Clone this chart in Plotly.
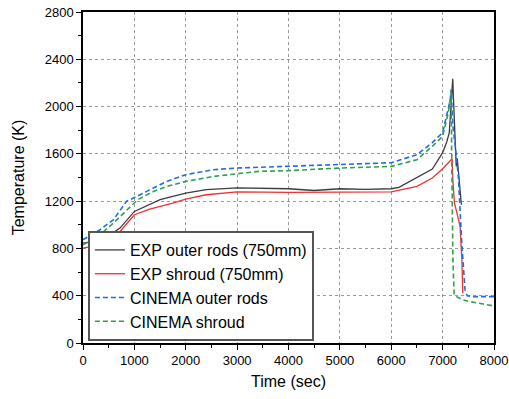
import plotly.graph_objects as go

# EXP outer rods (750mm)
t_exp_rods = [0, 330, 525, 720, 1000, 1300, 1500, 2000, 2400, 3000, 3500, 4000, 4500, 5000, 5500, 6000, 6150,
              6500, 6800, 7000, 7080, 7130, 7160, 7185, 7197, 7210, 7225, 7245, 7265, 7285, 7300, 7320, 7345, 7365]
T_exp_rods = [845, 867, 915, 972, 1113, 1169, 1212, 1268, 1297, 1313, 1310, 1305, 1290, 1305, 1300, 1305, 1316,
              1397, 1472, 1610, 1700, 1780, 1950, 2150, 2235, 2080, 1900, 1700, 1494, 1560, 1475, 1380, 1250, 1170]

# EXP shroud (750mm)
t_exp_shroud = [0, 330, 525, 720, 1000, 1300, 1750, 2000, 2400, 3000, 4000, 5000, 6000, 6500, 6800, 7000, 7185,
                7200, 7230, 7290, 7340, 7375, 7392]
T_exp_shroud = [802, 830, 879, 943, 1085, 1133, 1184, 1218, 1254, 1278, 1274, 1274, 1278, 1325, 1396, 1474, 1559,
                1367, 1186, 1080, 985, 703, 423]

# CINEMA outer rods
t_cin_rods = [0, 330, 590, 850, 915, 1300, 1630, 2000, 2540, 3000, 3430, 4000, 5000, 6000, 6500, 6800, 7000,
              7080, 7150, 7165, 7200, 7250, 7306, 7372, 7436, 7480, 7600, 8000]
T_cin_rods = [873, 958, 1042, 1200, 1212, 1297, 1367, 1424, 1466, 1480, 1486, 1494, 1511, 1525, 1593, 1695, 1780,
              1915, 2059, 2144, 1833, 1650, 1409, 847, 449, 400, 392, 392]

# CINEMA shroud
t_cin_shroud = [0, 330, 590, 850, 1064, 1370, 1630, 2000, 2540, 3000, 3430, 4000, 5000, 6000, 6500, 6800, 7000,
                7110, 7165, 7175, 7185, 7200, 7225, 7300, 7400, 7530, 7790, 8000]
T_cin_shroud = [830, 915, 1014, 1127, 1212, 1282, 1325, 1367, 1409, 1432, 1452, 1458, 1480, 1494, 1551, 1664, 1748,
                1948, 2118, 1664, 985, 703, 407, 385, 364, 350, 330, 313]

x_ticks = [0, 1000, 2000, 3000, 4000, 5000, 6000, 7000, 8000]
y_ticks = [0, 400, 800, 1200, 1600, 2000, 2400, 2800]

FONT = "Liberation Sans, Arial, sans-serif"

fig = go.Figure()
fig.add_trace(go.Scatter(x=t_exp_rods, y=T_exp_rods, mode="lines", name="EXP outer rods (750mm)",
                         line=dict(color="#3c3c3c", width=1.3)))
fig.add_trace(go.Scatter(x=t_exp_shroud, y=T_exp_shroud, mode="lines", name="EXP shroud (750mm)",
                         line=dict(color="#f03030", width=1.3)))
fig.add_trace(go.Scatter(x=t_cin_rods, y=T_cin_rods, mode="lines", name="CINEMA outer rods",
                         line=dict(color="#1f6fe0", width=1.6, dash="5px,3px")))
fig.add_trace(go.Scatter(x=t_cin_shroud, y=T_cin_shroud, mode="lines", name="CINEMA shroud",
                         line=dict(color="#2fa052", width=1.6, dash="5px,3px")))

axis_common = dict(
    showline=True, linecolor="#000000", linewidth=1.5, mirror=True,
    ticks="outside", ticklen=5, tickwidth=1, tickcolor="#000000",
    showgrid=True, gridcolor="#999999", griddash="dot", gridwidth=1,
    zeroline=False, automargin=False,
    tickfont=dict(family=FONT, size=13, color="#000000"),
)

fig.update_xaxes(range=[0, 8000], tickvals=x_ticks, ticktext=[str(v) for v in x_ticks],
                 minor=dict(dtick=500, ticks="outside", ticklen=3, tickcolor="#000000", showgrid=False),
                 title=dict(text="Time (sec)", font=dict(family=FONT, size=16, color="#000000"), standoff=8),
                 **axis_common)
fig.update_yaxes(range=[0, 2800], tickvals=y_ticks, ticktext=[str(v) for v in y_ticks],
                 minor=dict(dtick=200, ticks="outside", ticklen=3, tickcolor="#000000", showgrid=False),
                 title=dict(text="Temperature (K)", font=dict(family=FONT, size=16, color="#000000"), standoff=16),
                 **axis_common)

fig.update_layout(
    width=509, height=399,
    margin=dict(l=83, r=15, t=12, b=56),
    paper_bgcolor="#ffffff", plot_bgcolor="#ffffff",
    showlegend=True,
    legend=dict(x=0.012, y=0.006, xanchor="left", yanchor="bottom",
                bgcolor="#ffffff", bordercolor="#555555", borderwidth=2,
                font=dict(family=FONT, size=16, color="#000000"),
                tracegroupgap=0, itemwidth=30),
    font=dict(family=FONT),
)

fig.write_html("out.html")
